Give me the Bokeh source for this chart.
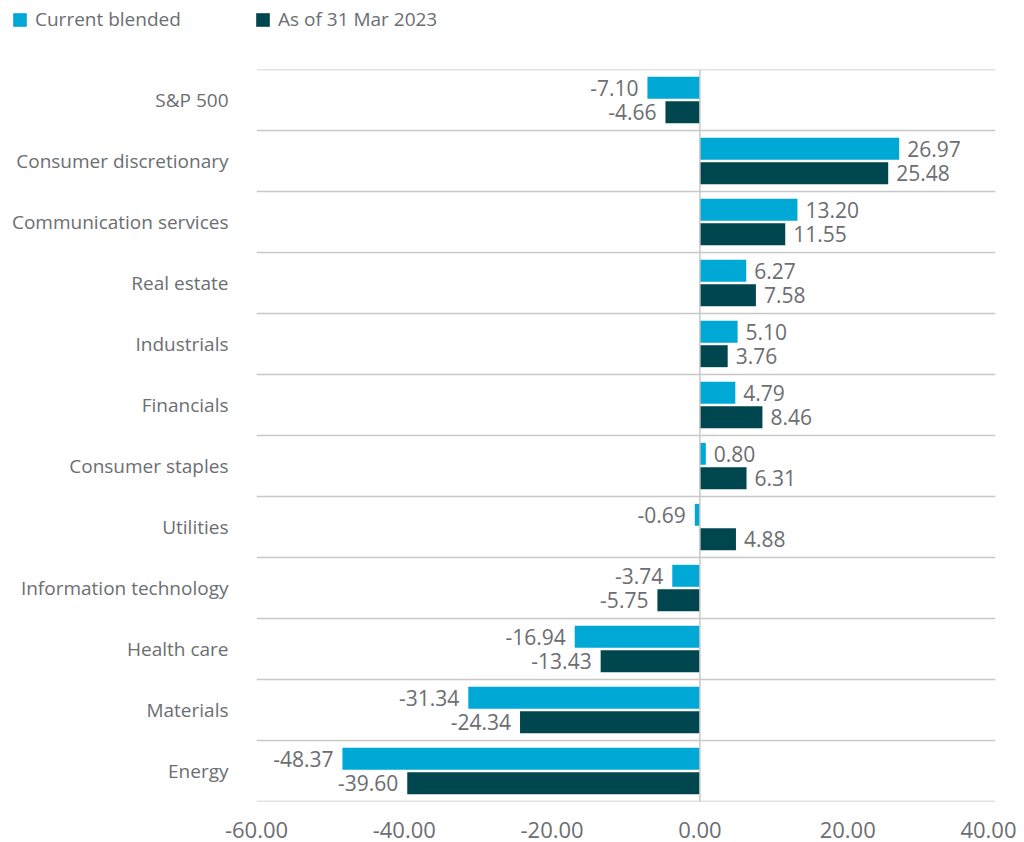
from bokeh.plotting import figure
from bokeh.models import (ColumnDataSource, Range1d, FixedTicker, NumeralTickFormatter,
                          Span, Legend, LegendItem)
from bokeh.layouts import column
from bokeh.core.properties import value
from bokeh.embed import file_html
from bokeh.resources import INLINE

categories = ["S&P 500", "Consumer discretionary", "Communication services", "Real estate",
              "Industrials", "Financials", "Consumer staples", "Utilities",
              "Information technology", "Health care", "Materials", "Energy"]
current_blended = [-7.10, 26.97, 13.20, 6.27, 5.10, 4.79, 0.80, -0.69, -3.74, -16.94, -31.34, -48.37]
as_of_mar_2023 = [-4.66, 25.48, 11.55, 7.58, 3.76, 8.46, 6.31, 4.88, -5.75, -13.43, -24.34, -39.60]
series_names = ["Current blended", "As of 31 Mar 2023"]
x_ticks = [-60, -40, -20, 0, 20, 40]

FONT = "Open Sans"
TXT = "#6b6e72"
CYAN = "#00a8d6"
DARK = "#00464f"
GRID = "#c8c8c8"

n = len(categories)
centers = [n - 1 - k for k in range(n)]
FRAME_LEFT = 256

# ---------------- legend strip ----------------
LEG_H = 40
lf = figure(width=1016, height=LEG_H, output_backend="svg", toolbar_location=None,
            x_range=Range1d(0, 1), y_range=Range1d(0, 1), min_border=0)
lf.frame_align = False
lf.axis.visible = False
lf.grid.visible = False
lf.outline_line_color = None
# legend swatch renderers (their bars lie outside the visible range)
d1 = lf.hbar(y=[0.5], left=[5], right=[6], height=1, fill_color=CYAN, line_color=None)
d2 = lf.hbar(y=[0.5], left=[5], right=[6], height=1, fill_color=DARK, line_color=None)
for r, name, xloc in ((d1, series_names[0], 11), (d2, series_names[1], 254)):
    lg = Legend(items=[LegendItem(label=name, renderers=[r])], location=(xloc, 8),
                glyph_width=17, glyph_height=17, label_standoff=7,
                padding=0, margin=0, border_line_color=None, background_fill_alpha=0,
                label_text_font=FONT, label_text_font_size="19px", label_text_color=TXT)
    lf.add_layout(lg)

# ---------------- main chart ----------------
p = figure(width=1016, height=802, output_backend="svg", toolbar_location=None,
           x_range=Range1d(-60, 40), y_range=Range1d(-0.5, n - 0.5),
           min_border_left=FRAME_LEFT, min_border_right=21, min_border_top=69 - LEG_H,
           min_border_bottom=41)
p.frame_align = False
p.outline_line_color = None
p.background_fill_color = "white"
p.border_fill_color = "white"

def make_src(vals, off):
    return ColumnDataSource(dict(
        y=[c + off for c in centers],
        v=vals,
        t=["%.2f" % v for v in vals],
        align=["left" if v >= 0 else "right" for v in vals],
        xo=[8 if v >= 0 else -9 for v in vals],
    ))

src_c = make_src(current_blended, 0.2)
src_d = make_src(as_of_mar_2023, -0.2)

p.hbar(y="y", right="v", left=0, height=0.36, source=src_c, fill_color=CYAN, line_color=None)
p.hbar(y="y", right="v", left=0, height=0.36, source=src_d, fill_color=DARK, line_color=None)

for src in (src_c, src_d):
    p.text(x="v", y="y", text="t", source=src, text_align="align", x_offset="xo",
           text_baseline="middle", text_font=value(FONT), text_font_size="21px", text_color=TXT)

# category separators
p.xgrid.visible = False
p.ygrid.ticker = FixedTicker(ticks=[k - 0.5 for k in range(1, n)])
p.ygrid.grid_line_color = GRID
p.ygrid.grid_line_width = 1.5
for edge in (-0.5, n - 0.5):
    p.add_layout(Span(location=edge, dimension="width", line_color=GRID, line_width=1.5))

p.add_layout(Span(location=0, dimension="height", line_color=GRID, line_width=1.5))

# y axis
p.yaxis.ticker = FixedTicker(ticks=centers)
p.yaxis.major_label_overrides = {c: categories[k] for k, c in enumerate(centers)}
p.yaxis.axis_line_color = None
p.yaxis.major_tick_line_color = None
p.yaxis.minor_tick_line_color = None
p.yaxis.major_label_standoff = 22
p.yaxis.major_label_text_font = FONT
p.yaxis.major_label_text_font_size = "19px"
p.yaxis.major_label_text_color = TXT

# x axis
p.xaxis.ticker = FixedTicker(ticks=x_ticks)
p.xaxis.formatter = NumeralTickFormatter(format="0.00")
p.xaxis.axis_line_color = None
p.xaxis.major_tick_line_color = None
p.xaxis.minor_tick_line_color = None
p.xaxis.major_label_standoff = 14
p.xaxis.major_label_text_font = FONT
p.xaxis.major_label_text_font_size = "22px"
p.xaxis.major_label_text_color = TXT

layout = column(lf, p, spacing=0)
open("out.html", "w").write(file_html(layout, INLINE))
